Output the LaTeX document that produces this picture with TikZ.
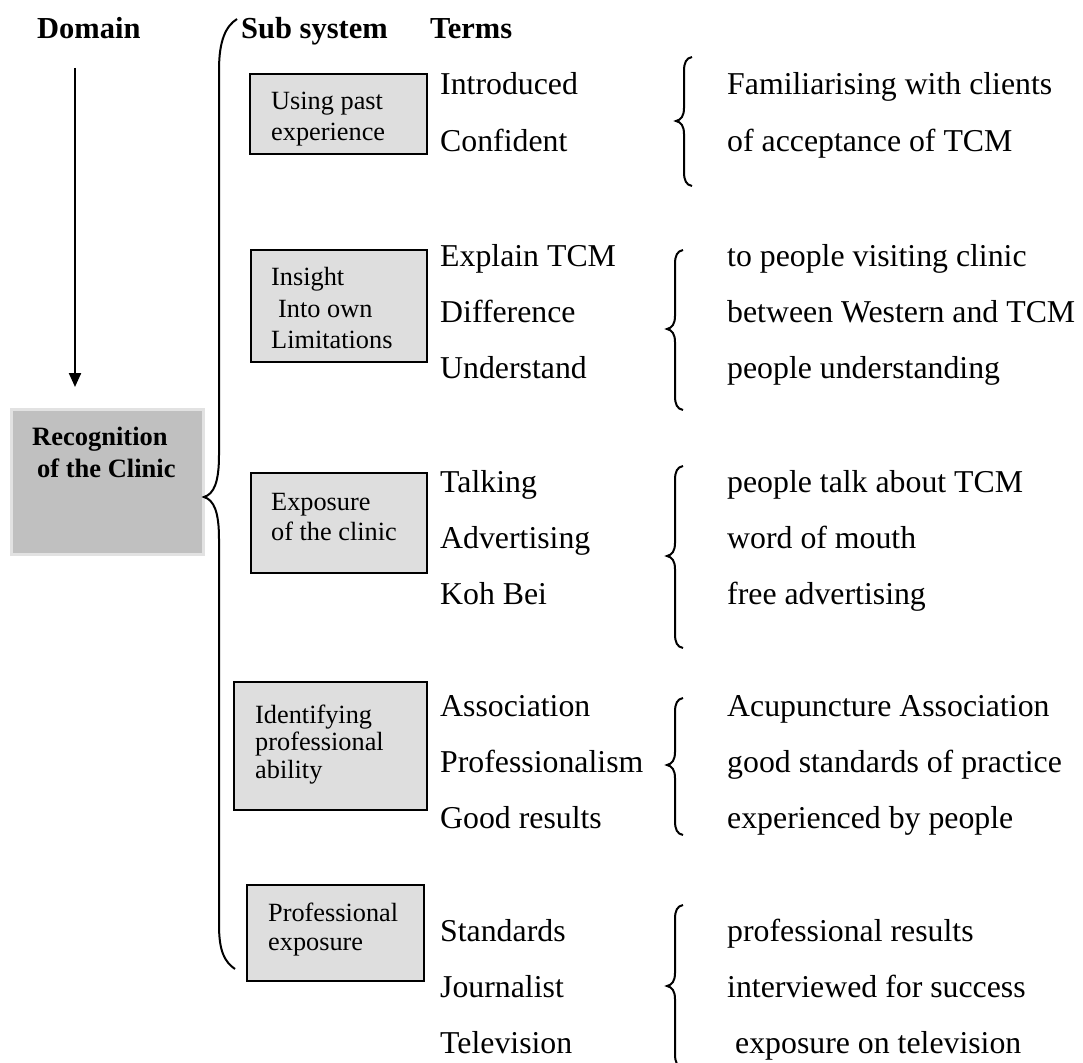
\documentclass[tikz,border=0pt]{standalone}
\usepackage{fontspec}
\setmainfont{Liberation Serif}
\usetikzlibrary{arrows.meta}
\definecolor{subfill}{HTML}{DEDEDE}
\definecolor{domfill}{HTML}{C0C0C0}
\definecolor{domedge}{HTML}{E2E2E2}

% curly brace opening to the right: #1 x of tip, #2 top y, #3 tip y, #4 bottom y
\newcommand{\termbrace}[4]{%
  \draw[bracestyle] ({#1+16},#2) .. controls ({#1+10},{#2+1}) and ({#1+8},{#2+6}) .. ({#1+8},{#2+14})
    -- ({#1+8},{#3-13}) .. controls ({#1+8},{#3-5}) and ({#1+5},{#3-1}) .. (#1,#3)
    .. controls ({#1+5},{#3+1}) and ({#1+8},{#3+5}) .. ({#1+8},{#3+13})
    -- ({#1+8},{#4-14}) .. controls ({#1+8},{#4-6}) and ({#1+10},{#4-1}) .. ({#1+16},#4);}

\begin{document}
\begin{tikzpicture}[x=1pt,y=-1pt,
  head/.style={font=\fontsize{30.5}{36}\selectfont\bfseries, inner sep=0, anchor=base west},
  term/.style={font=\fontsize{31.8}{36}\selectfont, inner sep=0, anchor=base west},
  boxtxt/.style={font=\fontsize{26.3}{30}\selectfont, inner sep=0, anchor=base west},
  domtxt/.style={font=\fontsize{26.5}{30}\selectfont\bfseries, inner sep=0, anchor=base west},
  subbox/.style={draw=black, fill=subfill, line width=2.2, inner sep=0},
  dombox/.style={draw=domedge, fill=domfill, line width=3, inner sep=0},
  bracestyle/.style={draw=black, line width=2},
  arr/.style={line width=2.2, -{Triangle[length=14pt,width=12pt]}}]

\clip (0,0) rectangle (1083,1062);
\fill[white] (0,0) rectangle (1083,1062);

% column headings
\node[head] (hdom) at (37,39) {Domain};
\node[head] (hsub) at (241,39) {Sub system};
\node[head] (hterm) at (430,39) {Terms};

% domain
\coordinate (atop) at (75,68);
\coordinate (atip) at (75,387);
\draw[arr] (atop) -- (atip);
\node[dombox, minimum width=192, minimum height=145] (rec) at (107,481.5) {};
\node[domtxt] (rec1) at (32,445) {Recognition};
\node[domtxt] (rec2) at (37,477) {of the Clinic};

% large brace grouping the sub systems
\draw[bracestyle] (237,19) .. controls (226,26) and (219,40) .. (219,70)
  -- (219,455) .. controls (219,482) and (214,494) .. (204,497)
  .. controls (214,500) and (219,512) .. (219,539)
  -- (219,925) .. controls (219,952) and (225,962) .. (235,969);

% sub system boxes
\node[subbox, minimum width=177, minimum height=80] (s1) at (338.5,114) {};
\node[boxtxt] (s1a) at (271,110) {Using past};
\node[boxtxt] (s1b) at (271,140) {experience};

\node[subbox, minimum width=176, minimum height=112] (s2) at (339,306) {};
\node[boxtxt] (s2a) at (271,285) {Insight};
\node[boxtxt] (s2b) at (278,317) {Into own};
\node[boxtxt] (s2c) at (271,348) {Limitations};

\node[subbox, minimum width=176, minimum height=100] (s3) at (339,523) {};
\node[boxtxt] (s3a) at (271,510) {Exposure};
\node[boxtxt] (s3b) at (271,540) {of the clinic};

\node[subbox, minimum width=193, minimum height=128] (s4) at (330.5,746) {};
\node[boxtxt] (s4a) at (255,723) {Identifying};
\node[boxtxt] (s4b) at (255,750) {professional};
\node[boxtxt] (s4c) at (255,778) {ability};

\node[subbox, minimum width=177, minimum height=96] (s5) at (335.5,933) {};
\node[boxtxt] (s5a) at (268,921) {Professional};
\node[boxtxt] (s5b) at (268,950) {exposure};

% terms
\node[term] (t11) at (440,95) {Introduced};
\node[term] (t12) at (440,151) {Confident};
\node[term] (t21) at (440,266) {Explain TCM};
\node[term] (t22) at (440,322) {Difference};
\node[term] (t23) at (440,378) {Understand};
\node[term] (t31) at (440,492) {Talking};
\node[term] (t32) at (440,548) {Advertising};
\node[term] (t33) at (440,604) {Koh Bei};
\node[term] (t41) at (440,716) {Association};
\node[term] (t42) at (440,772) {Professionalism};
\node[term] (t43) at (440,828) {Good results};
\node[term] (t51) at (440,941) {Standards};
\node[term] (t52) at (440,997) {Journalist};
\node[term] (t53) at (440,1053) {Television};

% small braces
\termbrace{676}{57}{121}{186}
\termbrace{667}{250}{329}{410}
\termbrace{667}{466}{556}{648}
\termbrace{667}{698}{765}{835}
\termbrace{667}{905}{986}{1068}

% descriptions
\node[term] (d11) at (727,95) {Familiarising with clients};
\node[term] (d12) at (727,151) {of acceptance of TCM};
\node[term] (d21) at (727,266) {to people visiting clinic};
\node[term] (d22) at (727,322) {between Western and TCM};
\node[term] (d23) at (727,378) {people understanding};
\node[term] (d31) at (727,492) {people talk about TCM};
\node[term] (d32) at (727,548) {word of mouth};
\node[term] (d33) at (727,604) {free advertising};
\node[term] (d41) at (727,716) {Acupuncture Association};
\node[term] (d42) at (727,772) {good standards of practice};
\node[term] (d43) at (727,828) {experienced by people};
\node[term] (d51) at (727,941) {professional results};
\node[term] (d52) at (727,997) {interviewed for success};
\node[term] (d53) at (735,1053) {exposure on television};
\end{tikzpicture}
\end{document}
